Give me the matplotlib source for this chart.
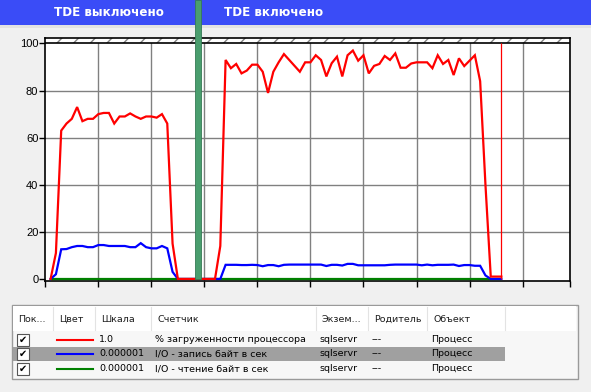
import matplotlib
matplotlib.use("Agg")
import matplotlib.pyplot as plt
from matplotlib.patches import Rectangle
from matplotlib.lines import Line2D

# -------------------------------
# Data (samples 1..86 of a 100-sample window)
# -------------------------------
samples = list(range(1, 87))

cpu = [0, 11, 63, 66, 68, 73, 67, 68, 68, 70, 70.5, 70.5, 66, 69, 69, 70.3,
       69, 68, 69, 69, 68.5, 70, 66, 15,
       0, 0, 0, 0, 0, 0, 0, 0,
       14,
       93, 89.5, 91.3, 87.3, 88.5, 91, 91, 88, 79, 88, 92, 95.5, 93, 90.5,
       88, 92, 92, 95, 93, 86, 91.6, 94.4, 86, 95, 97,
       92.7, 95, 87.3, 90.5, 91.3, 94.7, 93, 95.8, 89.7, 89.7, 91.5, 92, 92,
       92, 89.5, 95, 91.3, 93, 86.6, 93.7, 90.4, 92.7, 95,
       84, 40, 1, 1, 1]

io_write = [0, 2, 12.6, 12.7, 13.5, 14, 14, 13.5, 13.5, 14.4, 14.4, 14, 14,
            14, 14, 13.5, 13.5, 15.2, 13.5, 13, 13, 14, 13, 3,
            0, 0, 0, 0, 0, 0, 0, 0, 0,
            6, 6, 6, 5.9, 5.9, 6, 5.9, 5.4, 5.9, 5.9, 5.4, 6, 6.1, 6.1, 6.1,
            6.1, 6.1, 6.1, 6.1, 5.5, 6, 6, 5.7, 6.4, 6.4, 5.8, 5.8, 5.8, 5.8,
            5.8, 5.8, 6.0, 6.1, 6.1, 6.1, 6.1, 6.1, 5.8, 6.1, 5.8, 6, 6, 6,
            6.1, 5.5, 5.9, 5.9, 5.6, 5.6, 1.5,
            0, 0, 0]

io_read = [0] * 86

current_sample = 86

series_colors = ["#ff0000", "#0000ff", "#008000"]
scales = ["1.0", "0.000001", "0.000001"]
counters = ["% загруженности процессора", "I/O - запись байт в сек",
            "I/O - чтение байт в сек"]
instance = "sqlservr"
parent = "---"
obj = "Процесс"
columns = ["Пок...", "Цвет", "Шкала", "Счетчик", "Экзем...", "Родитель", "Объект"]

W, H = 591, 392
BG = "#f0f0f0"
FS = 6.8


def fx(x):
    return x / W


def fy(y):
    return 1 - y / H


fig = plt.figure(figsize=(W / 100, H / 100), dpi=100, facecolor=BG)

# -------------------------------
# Chart area
# -------------------------------
ax = fig.add_axes([fx(45.3), fy(280.6), (570.3 - 45.3) / W, (280.6 - 38.3) / H])
ax.set_facecolor("white")
ax.set_xlim(0, 99)
ax.set_ylim(-0.7, 102.2)

for v in range(10, 99, 10):
    ax.axvline(v, color="#808080", lw=1.0, zorder=1)
for v in range(20, 100, 20):
    ax.axhline(v, color="#808080", lw=1.0, zorder=1)

# hatched band above 100
ax.add_patch(Rectangle((0, 100), 99, 2.2, facecolor="white", edgecolor="#808080",
                       hatch="//", lw=0, zorder=2))
ax.axhline(100, color="black", lw=1.2, zorder=3)

ax.plot(samples, io_read, color=series_colors[2], lw=1.6, zorder=4,
        solid_joinstyle="miter")
ax.plot(samples, io_write, color=series_colors[1], lw=1.6, zorder=5,
        solid_joinstyle="miter")
ax.plot(samples, cpu, color=series_colors[0], lw=1.6, zorder=6,
        solid_joinstyle="miter")
ax.vlines(current_sample, 0, 100, color="#ff0000", lw=0.9, zorder=6)

for s in ax.spines.values():
    s.set_color("black")
    s.set_linewidth(1.2)

ax.set_yticks(range(0, 101, 20))
ax.set_xticks(list(range(0, 99, 10)) + [99])
ax.set_xticklabels([])
ax.tick_params(axis="y", length=4, width=1, pad=1, labelsize=8)
ax.tick_params(axis="x", length=4, width=1)
for lab in ax.get_yticklabels():
    lab.set_fontfamily("Liberation Sans")

# -------------------------------
# Header band with TDE labels
# -------------------------------
fig.patches.append(Rectangle((0, fy(25)), 1, 25 / H, transform=fig.transFigure,
                             facecolor="#3a4cf7", edgecolor="none", zorder=0))
fig.patches.append(Rectangle((0, fy(28)), 1, 3 / H, transform=fig.transFigure,
                             facecolor="#e2e2e2", edgecolor="none", zorder=0))
fig.text(fx(109), fy(12.5), "TDE выключено", color="white", fontsize=8.6,
         fontweight="bold", ha="center", va="center")
fig.text(fx(274), fy(12.5), "TDE включено", color="white", fontsize=8.6,
         fontweight="bold", ha="center", va="center")
# separator bar
fig.add_artist(Rectangle((fx(195), fy(279)), 6 / W, 279 / H,
                         transform=fig.transFigure, facecolor="#4a9e6e",
                         edgecolor="#357a55", lw=0.6, zorder=10))

# -------------------------------
# Counter list below chart
# -------------------------------
fig.patches.append(Rectangle((fx(12), fy(379)), (578 - 12) / W, (379 - 305) / H,
                             transform=fig.transFigure, facecolor="#f7f7f7",
                             edgecolor="#9a9a9a", lw=1, zorder=1))
fig.patches.append(Rectangle((fx(13), fy(331)), (576 - 13) / W, 25 / H,
                             transform=fig.transFigure, facecolor="white",
                             edgecolor="none", zorder=1))
# selected row
fig.patches.append(Rectangle((fx(13), fy(361)), (505 - 13) / W, 14 / H,
                             transform=fig.transFigure, facecolor="#a0a0a0",
                             edgecolor="none", zorder=2))

col_x = [18, 59, 101, 157, 321, 374, 433]
for cx, name in zip(col_x, columns):
    fig.text(fx(cx), fy(319), name, fontsize=FS, va="center", ha="left",
             color="#1e1e1e", zorder=5)
for sx in [53, 95, 151, 316, 368, 427, 505]:
    fig.add_artist(Line2D([fx(sx), fx(sx)], [fy(307), fy(330)],
                          transform=fig.transFigure, color="#e3e3e3", lw=0.8))

row_y = [339.5, 354, 368.5]
for ry, col, sc, cn in zip(row_y, series_colors, scales, counters):
    fig.patches.append(Rectangle((fx(17), fy(ry + 6)), 12 / W, 12 / H,
                                 transform=fig.transFigure, facecolor="white",
                                 edgecolor="#555555", lw=0.8, zorder=3))
    fig.text(fx(23), fy(ry), "✔", fontsize=7, ha="center", va="center",
             color="black", zorder=6)
    fig.add_artist(Line2D([fx(57), fx(93)], [fy(ry), fy(ry)],
                          transform=fig.transFigure, color=col, lw=1.5, zorder=6))
    fig.text(fx(99), fy(ry), sc, fontsize=FS, va="center", color="black", zorder=6)
    fig.text(fx(155), fy(ry), cn, fontsize=FS, va="center", color="black", zorder=6)
    fig.text(fx(319), fy(ry), instance, fontsize=FS, va="center", color="black", zorder=6)
    fig.text(fx(372), fy(ry), parent, fontsize=FS, va="center", color="black", zorder=6)
    fig.text(fx(431), fy(ry), obj, fontsize=FS, va="center", color="black", zorder=6)

fig.savefig("out.png", dpi=100, facecolor=BG)
